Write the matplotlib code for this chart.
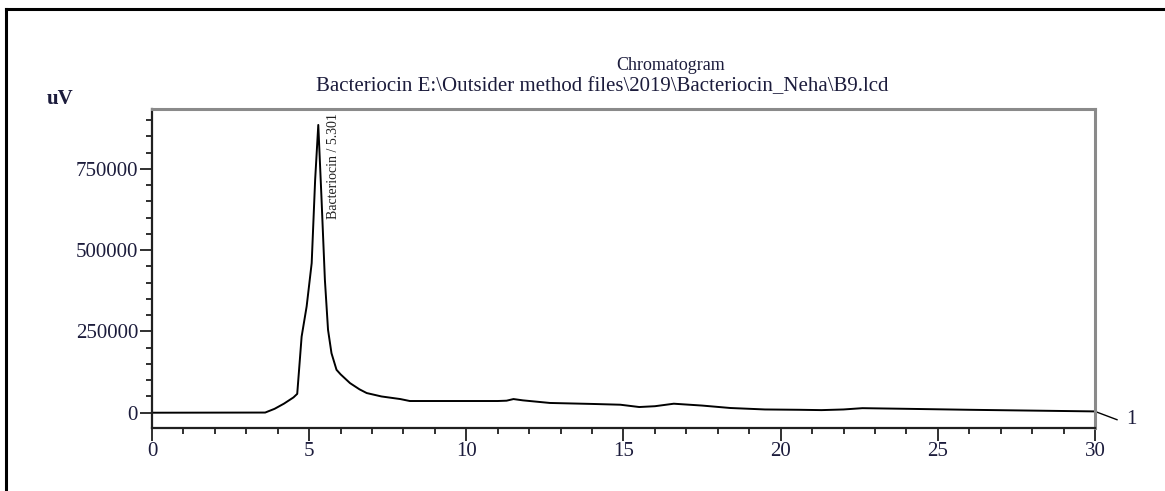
import matplotlib
matplotlib.use("Agg")
import matplotlib.pyplot as plt
from matplotlib.lines import Line2D
from matplotlib.ticker import MultipleLocator

# retention time (min) and detector signal (uV)
rt = [0, 3.6, 3.9, 4.2, 4.5, 4.62, 4.76, 4.92, 5.08, 5.19, 5.29, 5.39, 5.5, 5.6,
      5.71, 5.87, 6.0, 6.3, 6.6, 6.83, 7.3, 7.9, 8.2, 9.0, 10.0, 11.0, 11.28,
      11.5, 11.8, 12.66, 14.0, 14.9, 15.5, 16.0, 16.6, 17.5, 18.4, 19.5, 20.6,
      21.3, 22.0, 22.6, 24.0, 26.0, 28.0, 30.0]
signal = [0, 500, 12000, 28000, 47000, 58000, 234000, 327000, 460000, 716000,
          885000, 665000, 409000, 255000, 183000, 132000, 118000, 91000, 72000,
          60500, 50000, 42000, 36000, 36000, 36000, 36000, 37000, 42000, 38000,
          30000, 27000, 24600, 17500, 20000, 27700, 22000, 14500, 10000, 9000,
          8000, 10000, 14000, 12000, 9000, 6500, 4000]

yticks = [0, 250000, 500000, 750000]
xticks = [0, 5, 10, 15, 20, 25, 30]

title = "Chromatogram"
subtitle = "Bacteriocin E:\\Outsider method files\\2019\\Bacteriocin_Neha\\B9.lcd"
peak_label = "Bacteriocin / 5.301"
peak_pos = (5.79, 922000)

W, H = 1165, 491
plt.rcParams['font.family'] = ['Liberation Serif', 'DejaVu Serif']
fig = plt.figure(figsize=(W / 100, H / 100), dpi=100)
ax = fig.add_axes([152 / W, 1 - 428 / H, (1095 - 152) / W, (428 - 109) / H])

ax.plot(rt, signal, color='black', lw=1.4)
ax.set_xlim(0, 30)
ax.set_ylim(-47000, 934000)
ax.set_xticks(xticks)
ax.set_yticks(yticks)
ax.xaxis.set_minor_locator(MultipleLocator(1))
ax.yaxis.set_minor_locator(MultipleLocator(50000))

lab_col = '#1c1c3c'
ax.tick_params(which='major', length=9, width=1.4, color='#303030',
               labelsize=15, labelcolor=lab_col, pad=1)
ax.tick_params(which='minor', length=4.5, width=1.4, color='#303030')
for s in ['left', 'bottom']:
    ax.spines[s].set_linewidth(1.6)
    ax.spines[s].set_color('#202020')
for s in ['top', 'right']:
    ax.spines[s].set_linewidth(2.2)
    ax.spines[s].set_color('#8a8a8a')

# peak annotation
ax.text(peak_pos[0], peak_pos[1], peak_label, rotation=90, ha='center',
        va='top', fontsize=10, color='#202020')

# channel marker past the right edge
ax.plot([30, 30.7], [signal[-1], -21500], color='black', lw=1, clip_on=False)
ax.text(31.0, -21500, "1", fontsize=15, color=lab_col, va='center',
        ha='left', clip_on=False)

fig.text(60 / W, 1 - 99 / H, "uV", fontsize=15, color=lab_col,
         fontweight='bold', ha='center', va='center')
fig.text(671 / W, 1 - 70 / H, title, fontsize=13, color=lab_col,
         ha='center', va='baseline')
fig.text(316 / W, 1 - 91 / H, subtitle, fontsize=15, color=lab_col,
         ha='left', va='baseline')

# page frame (top and left edges visible)
fig.add_artist(Line2D([6 / W, 1.0], [1 - 9 / H, 1 - 9 / H], color='black',
                      lw=2.2, transform=fig.transFigure))
fig.add_artist(Line2D([6 / W, 6 / W], [1 - 9 / H, 0.0], color='black',
                      lw=2.2, transform=fig.transFigure))

fig.savefig("out.png", dpi=100)
